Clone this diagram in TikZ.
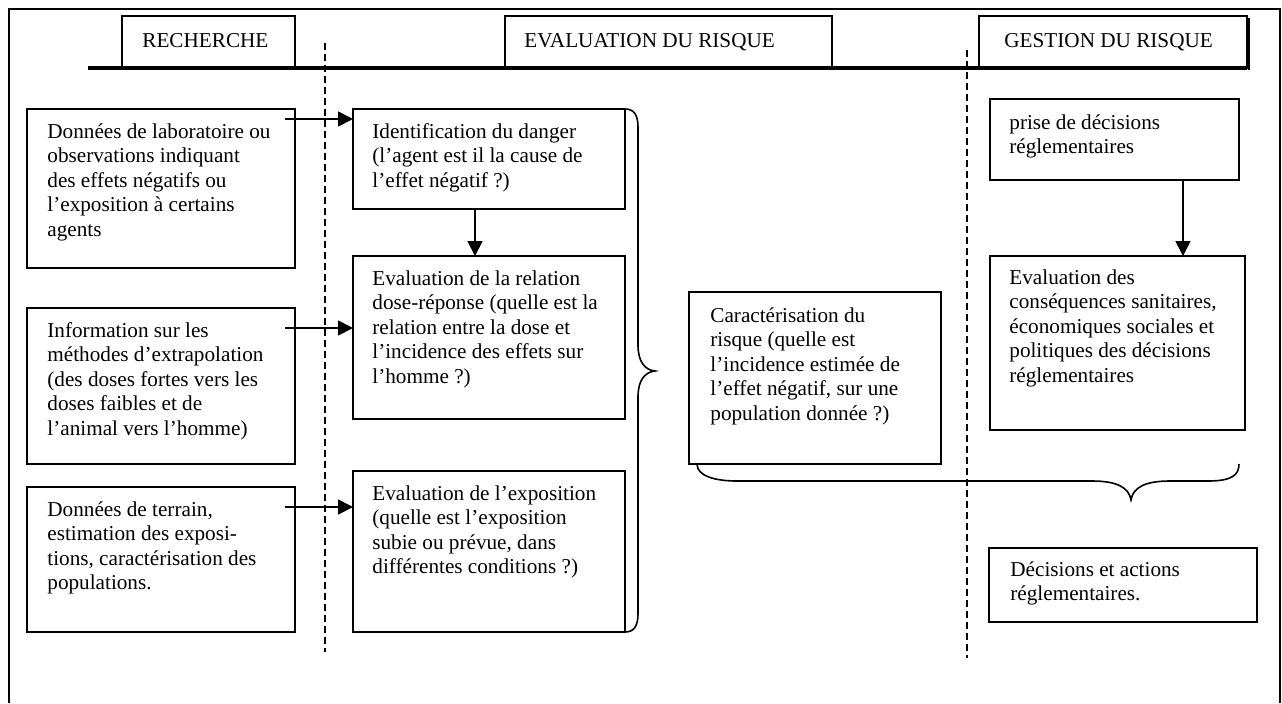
\documentclass[tikz,border=0pt]{standalone}
\usepackage{fontspec}
\setmainfont{Liberation Serif}
\usetikzlibrary{calc,fit,arrows.meta}
\begin{document}
\begin{tikzpicture}[x=0.5pt,y=-0.5pt,
  box/.style={draw, line width=1pt, inner sep=0pt, outer sep=0pt},
  % the strut fixes the first line height at 8pt, so north sits 8pt above its baseline
  txt/.style={anchor=north west, align=left, inner sep=0pt,
    font=\fontsize{10.6pt}{12.25pt}\selectfont,
    execute at begin node={\rule{0pt}{8pt}}},
  arr/.style={line width=0.9pt, -{Triangle[length=7.5pt,width=7.5pt]}},
  sep/.style={line width=1pt, dash pattern=on 3.5pt off 2pt},
  brace/.style={line width=0.8pt}]
\useasboundingbox (0,0) rectangle (1282,703);

% outer frame
\draw[line width=1pt] (9,703) -- (9,9) -- (1280,9) -- (1280,703);

% column headers
\node[box, fit={(122,16)(295,68)}] (h1) {};
\node[box, fit={(505,16)(832,68)}] (h2) {};
\draw[line width=1pt] (1249,18) -- (1249,70);
\node[box, fit={(979,16)(1247,68)}] (h3) {};
\node[txt] (th1) at ($(h1.north west)+(20,15)$) {RECHERCHE};
\node[txt] (th2) at ($(h2.north west)+(19,15)$) {EVALUATION DU RISQUE};
\node[txt] (th3) at ($(h3.north west)+(25,15)$) {GESTION DU RISQUE};
\coordinate (rule-start) at (88,68);
\draw[line width=1.8pt] (rule-start) -- (rule-start -| h3.east);

% column separators
\draw[sep] (325,43) -- (325,652);
\draw[sep] (967,50) -- (967,658);

% research column
\node[box, fit={(27,109)(295,268)}] (b1) {};
\node[box, fit={(27,308)(295,464)}] (b2) {};
\node[box, fit={(27,487)(295,632)}] (b3) {};
% risk assessment column
\node[box, fit={(353,109)(625,209)}] (b4) {};
\node[box, fit={(353,256)(625,419)}] (b5) {};
\node[box, fit={(353,471)(625,632)}] (b6) {};
\node[box, fit={(689,292)(941,464)}] (b7) {};
% risk management column
\node[box, fit={(990,99)(1239,180)}] (b8) {};
\node[box, fit={(990,256)(1245,430)}] (b9) {};
\node[box, fit={(989,548)(1257,622)}] (b10) {};

% box texts
\node[txt] (t1) at ($(b1.north west)+(20,14)$) {Données de laboratoire ou\\observations indiquant\\des effets négatifs ou\\l’exposition à certains\\agents};
\node[txt] (t2) at ($(b2.north west)+(20,14)$) {Information sur les\\méthodes d’extrapolation\\(des doses fortes vers les\\doses faibles et de\\l’animal vers l’homme)};
\node[txt] (t3) at ($(b3.north west)+(20,14)$) {Données de terrain,\\estimation des exposi-\\tions, caractérisation des\\populations.};
\node[txt] (t4) at ($(b4.north west)+(19,14)$) {Identification du danger\\(l’agent est il la cause de\\l’effet négatif ?)};
\node[txt] (t5) at ($(b5.north west)+(19,14)$) {Evaluation de la relation\\dose-réponse (quelle est la\\relation entre la dose et\\l’incidence des effets sur\\l’homme ?)};
\node[txt] (t6) at ($(b6.north west)+(19,14)$) {Evaluation de l’exposition\\(quelle est l’exposition\\subie ou prévue, dans\\différentes conditions ?)};
\node[txt] (t7) at ($(b7.north west)+(21,15)$) {Caractérisation du\\risque (quelle est\\l’incidence estimée de\\l’effet négatif, sur une\\population donnée ?)};
\node[txt] (t8) at ($(b8.north west)+(19,15)$) {prise de décisions\\réglementaires};
\node[txt] (t9) at ($(b9.north west)+(19,13)$) {Evaluation des\\conséquences sanitaires,\\économiques sociales et\\politiques des décisions\\réglementaires};
\node[txt] (t10) at ($(b10.north west)+(21,13)$) {Décisions et actions\\réglementaires.};

% arrows
\coordinate (a1) at ($(b1.north east)+(-10,10)$);
\draw[arr] (a1) -- (a1 -| b4.west);
\coordinate (a2) at ($(b2.north east)+(-10,20)$);
\draw[arr] (a2) -- (a2 -| b5.west);
\coordinate (a3) at ($(b3.north east)+(-10,20)$);
\draw[arr] (a3) -- (a3 -| b6.west);
\coordinate (a4) at ($(b4.south)+(-14,0)$);
\draw[arr] (a4) -- (a4 |- b5.north);
\coordinate (a8) at (1183,180);
\draw[arr] (a8 |- b8.south) -- (a8 |- b9.north);

% brace grouping the three assessment steps
\draw[brace] (b4.north east) .. controls +(9,0) and +(0,-12) .. ++(13,18)
  -- (638,345) .. controls (638,362) and (645,370) .. (655,371)
  .. controls (645,372) and (638,380) .. (638,397)
  -- (638,614) .. controls (638,626) and (634,632) .. (b6.south east);

% brace under characterisation and management
\draw[brace] ($(b7.south west)+(8,0)$) .. controls +(0,12) and +(-22,0) .. (737,481)
  -- (1092,481) .. controls (1116,481) and (1129,487) .. (1131,500)
  .. controls (1133,487) and (1146,481) .. (1170,481)
  -- (1208,481) .. controls (1232,481) and (1239,475) .. (1239,464);
\end{tikzpicture}
\end{document}
